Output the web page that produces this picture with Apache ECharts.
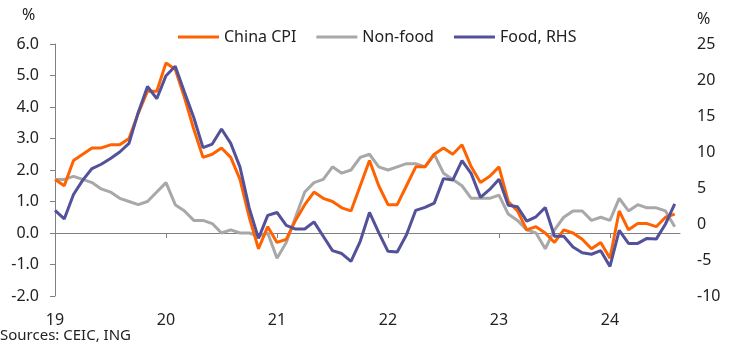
<!DOCTYPE html>
<html>
<head>
<meta charset="utf-8">
<script src="https://cdn.jsdelivr.net/npm/echarts@6/dist/echarts.min.js"></script>
<style>
  html, body { margin: 0; padding: 0; background: #fff; }
  #chart { width: 744px; height: 348px; }
</style>
</head>
<body>
<div id="chart"></div>
<script>
// China inflation, % YoY, monthly Jan 2019 - Aug 2024
const yearLabels = ['19', '20', '21', '22', '23', '24'];

const chinaCpi = [
  1.7, 1.5, 2.3, 2.5, 2.7, 2.7, 2.8, 2.8, 3.0, 3.8, 4.5, 4.5,
  5.4, 5.2, 4.3, 3.3, 2.4, 2.5, 2.7, 2.4, 1.7, 0.5, -0.5, 0.2,
  -0.3, -0.2, 0.4, 0.9, 1.3, 1.1, 1.0, 0.8, 0.7, 1.5, 2.3, 1.5,
  0.9, 0.9, 1.5, 2.1, 2.1, 2.5, 2.7, 2.5, 2.8, 2.1, 1.6, 1.8,
  2.1, 1.0, 0.7, 0.1, 0.2, 0.0, -0.3, 0.1, 0.0, -0.2, -0.5, -0.3,
  -0.8, 0.7, 0.1, 0.3, 0.3, 0.2, 0.5, 0.6
];

const nonFood = [
  1.7, 1.7, 1.8, 1.7, 1.6, 1.4, 1.3, 1.1, 1.0, 0.9, 1.0, 1.3,
  1.6, 0.9, 0.7, 0.4, 0.4, 0.3, 0.0, 0.1, 0.0, 0.0, -0.1, 0.0,
  -0.8, -0.3, 0.5, 1.3, 1.6, 1.7, 2.1, 1.9, 2.0, 2.4, 2.5, 2.1,
  2.0, 2.1, 2.2, 2.2, 2.1, 2.5, 1.9, 1.7, 1.5, 1.1, 1.1, 1.1,
  1.2, 0.6, 0.4, 0.1, 0.0, -0.5, 0.1, 0.5, 0.7, 0.7, 0.4, 0.5,
  0.4, 1.1, 0.7, 0.9, 0.8, 0.8, 0.7, 0.2
];

// Food prices, plotted on the right-hand axis
const food = [
  1.9, 0.7, 4.1, 6.1, 7.7, 8.3, 9.1, 10.0, 11.2, 15.5, 19.1, 17.4,
  20.6, 21.9, 18.3, 14.8, 10.6, 11.1, 13.2, 11.2, 7.9, 2.2, -2.0, 1.2,
  1.6, -0.2, -0.7, -0.7, 0.3, -1.7, -3.7, -4.1, -5.2, -2.4, 1.6, -1.2,
  -3.8, -3.9, -1.5, 1.9, 2.3, 2.9, 6.3, 6.1, 8.8, 7.0, 3.7, 4.8,
  6.2, 2.6, 2.4, 0.4, 1.0, 2.3, -1.7, -1.7, -3.2, -4.0, -4.2, -3.7,
  -5.9, -0.9, -2.7, -2.7, -2.0, -2.1, 0.0, 2.8
];

const FONT = '"Noto Sans", "Open Sans", sans-serif';
const TEXT = '#222222';
const AXIS = '#808080';

const yearTicks = yearLabels.map((_, i) => i * 12);
const toPoints = arr => arr.map((v, i) => [i, v]);

const chart = echarts.init(document.getElementById('chart'), null, { renderer: 'canvas' });

chart.setOption({
  animation: false,
  textStyle: { fontFamily: FONT },
  grid: { left: 55, right: 64, top: 44, bottom: 52, containLabel: false },
  legend: {
    data: ['China CPI', 'Non-food', 'Food, RHS'],
    left: 173,
    top: 24,
    icon: 'rect',
    itemWidth: 41,
    itemHeight: 3,
    itemGap: 20,
    textStyle: { fontFamily: FONT, fontSize: 16, color: TEXT, padding: [0, 0, 0, 0] }
  },
  xAxis: [
    {
      // year labels along the bottom
      type: 'value',
      min: 0,
      max: 67.57,
      position: 'bottom',
      axisLine: { show: false, onZero: false },
      axisTick: { show: false },
      splitLine: { show: false },
      axisLabel: {
        customValues: yearTicks,
        margin: 16,
        fontFamily: FONT,
        fontSize: 16,
        color: TEXT,
        formatter: v => yearLabels[Math.round(v / 12)]
      }
    },
    {
      // baseline through zero with year ticks
      type: 'value',
      min: 0,
      max: 67.57,
      position: 'bottom',
      axisLine: { show: true, onZero: true, onZeroAxisIndex: 0, lineStyle: { color: AXIS, width: 1 } },
      axisTick: { show: true, customValues: yearTicks, length: 5, lineStyle: { color: AXIS } },
      axisLabel: { show: false },
      splitLine: { show: false }
    }
  ],
  yAxis: [
    {
      type: 'value',
      min: -2,
      max: 6,
      interval: 1,
      position: 'left',
      axisLine: { show: true, onZero: false, lineStyle: { color: AXIS, width: 1 } },
      axisTick: { show: true, length: 5, lineStyle: { color: AXIS } },
      splitLine: { show: false },
      axisLabel: {
        margin: 16,
        fontFamily: FONT,
        fontSize: 16,
        color: TEXT,
        formatter: v => v.toFixed(1)
      }
    },
    {
      type: 'value',
      min: -10,
      max: 25,
      interval: 5,
      position: 'right',
      axisLine: { show: false, onZero: false },
      axisTick: { show: false },
      splitLine: { show: false },
      axisLabel: { margin: 17, fontFamily: FONT, fontSize: 16, color: TEXT }
    }
  ],
  series: [
    {
      name: 'Non-food',
      type: 'line',
      xAxisIndex: 0,
      yAxisIndex: 0,
      data: toPoints(nonFood),
      showSymbol: false,
      symbol: 'none',
      lineStyle: { color: '#A8A8A8', width: 3 },
      itemStyle: { color: '#A8A8A8' }
    },
    {
      name: 'China CPI',
      type: 'line',
      xAxisIndex: 0,
      yAxisIndex: 0,
      data: toPoints(chinaCpi),
      showSymbol: false,
      symbol: 'none',
      lineStyle: { color: '#FF6200', width: 3 },
      itemStyle: { color: '#FF6200' }
    },
    {
      name: 'Food, RHS',
      type: 'line',
      xAxisIndex: 0,
      yAxisIndex: 1,
      data: toPoints(food),
      showSymbol: false,
      symbol: 'none',
      lineStyle: { color: '#525199', width: 3 },
      itemStyle: { color: '#525199' }
    }
  ],
  graphic: [
    { type: 'text', left: 22, top: 7, style: { text: '%', fontFamily: FONT, fontSize: 16, fill: TEXT } },
    { type: 'text', left: 697, top: 11, style: { text: '%', fontFamily: FONT, fontSize: 16, fill: TEXT } },
    { type: 'text', left: 0, top: 328, style: { text: 'Sources: CEIC, ING', fontFamily: FONT, fontSize: 15, fill: TEXT } }
  ]
});
</script>
</body>
</html>
